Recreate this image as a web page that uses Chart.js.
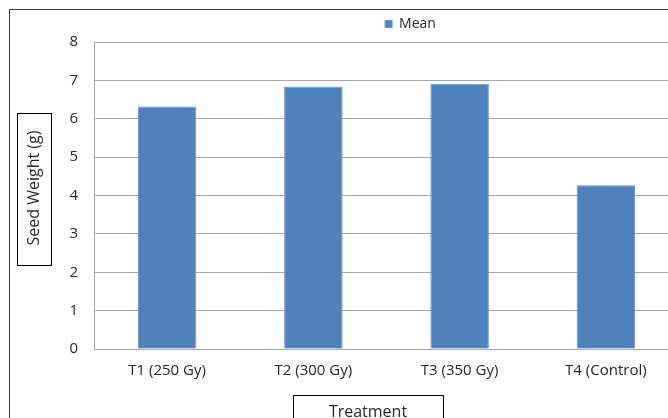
<!DOCTYPE html>
<html lang="en">
<head>
  <meta charset="UTF-8">
  <title>Seed Weight by Treatment</title>
  <script src="https://cdn.jsdelivr.net/npm/chart.js"></script>
  <style>
    html, body {
      margin: 0;
      padding: 0;
      overflow: hidden;
      background: #fff;
    }
    canvas {
      display: block;
    }
  </style>
</head>
<body>
  <canvas id="seedChart" width="690" height="418"></canvas>

  <script>
    // Chart data
    const treatments = ['T1 (250 Gy)', 'T2 (300 Gy)', 'T3 (350 Gy)', 'T4 (Control)'];
    const meanWeight = [6.32, 6.84, 6.91, 4.27];
    const yTicks = [0, 1, 2, 3, 4, 5, 6, 7, 8];
    const seriesName = 'Mean';
    const xTitle = 'Treatment';
    const yTitle = 'Seed Weight (g)';

    const FONT = '"Open Sans", sans-serif';
    const TEXT = '#262626';
    const GRID = '#a6a6a6';

    // legend needs a bit more room under it, and sits right of centre like the original
    const legendTweak = {
      id: 'legendTweak',
      beforeInit(chart) {
        const fit = chart.legend.fit;
        chart.legend.fit = function () {
          fit.call(this);
          this.height += 1;
        };
      },
      afterLayout(chart) {
        chart.legend.left += 24;
        chart.legend.right += 24;
      }
    };

    // outer frame and the boxed axis titles
    const frameAndTitles = {
      id: 'frameAndTitles',
      afterDraw(chart) {
        const ctx = chart.ctx;
        ctx.save();
        ctx.strokeStyle = '#3a3a3a';
        ctx.lineWidth = 1;
        ctx.strokeRect(9.5, 9.5, chart.width, chart.height);

        ctx.fillStyle = TEXT;
        ctx.font = '16px ' + FONT;
        ctx.textAlign = 'center';
        ctx.textBaseline = 'middle';

        // y title, rotated
        ctx.strokeStyle = '#000';
        ctx.strokeRect(17.5, 113.5, 34, 152);
        ctx.save();
        ctx.translate(34, 188);
        ctx.rotate(-Math.PI / 2);
        ctx.fillText(yTitle, 0, 0);
        ctx.restore();

        // x title
        ctx.strokeRect(293.5, 395.5, 150, 40);
        ctx.fillText(xTitle, 368, 412);
        ctx.restore();
      }
    };

    const ctx = document.getElementById('seedChart').getContext('2d');
    const seedChart = new Chart(ctx, {
      type: 'bar',
      data: {
        labels: treatments,
        datasets: [{
          label: seriesName,
          data: meanWeight,
          backgroundColor: '#4f81bd',
          borderColor: '#6a95c8',
          borderWidth: 1,
          categoryPercentage: 1.0,
          barPercentage: 0.4
        }]
      },
      options: {
        responsive: false,
        animation: false,
        layout: {
          padding: { left: 9, top: 7, right: 11, bottom: 0 }
        },
        plugins: {
          legend: {
            display: true,
            position: 'top',
            fullSize: false,
            labels: {
              boxWidth: 7,
              boxHeight: 7,
              padding: 10,
              color: TEXT,
              font: { family: FONT, size: 14 }
            }
          },
          tooltip: { enabled: false }
        },
        scales: {
          x: {
            grid: { display: false },
            border: { display: true, color: GRID, width: 1 },
            ticks: {
              padding: 5,
              color: TEXT,
              font: { family: FONT, size: 15 }
            },
            afterFit(scale) {
              scale.height = 69;
            }
          },
          y: {
            min: yTicks[0],
            max: yTicks[yTicks.length - 1],
            grid: { color: GRID, lineWidth: 1, drawTicks: false },
            border: { display: true, color: GRID, width: 1 },
            ticks: {
              stepSize: 1,
              padding: 16,
              color: TEXT,
              font: { family: FONT, size: 15 }
            },
            afterFit(scale) {
              scale.width = 85;
            }
          }
        }
      },
      plugins: [legendTweak, frameAndTitles]
    });
  </script>
</body>
</html>
